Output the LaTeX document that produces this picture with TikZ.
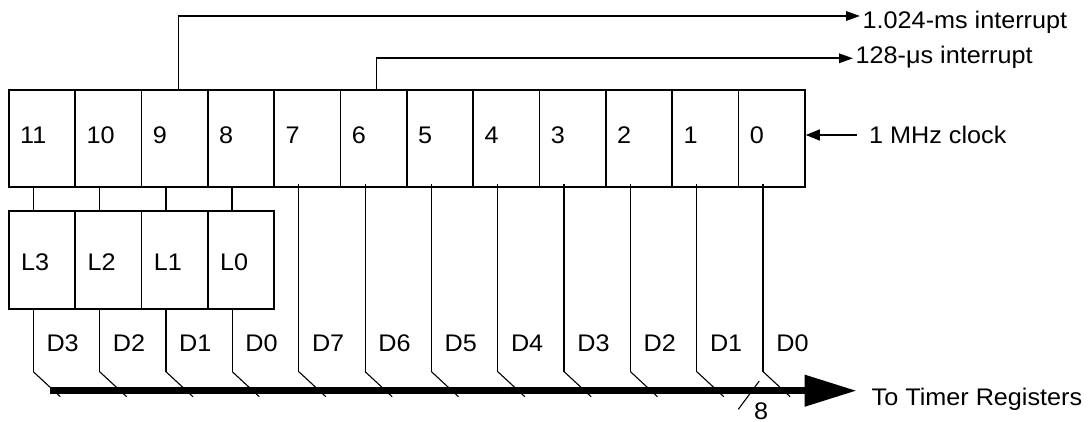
\documentclass[tikz,border=0pt]{standalone}
\usepackage{fontspec}
\setmainfont{Liberation Sans}[FakeStretch=1.05]
\usetikzlibrary{arrows.meta,calc}
\begin{document}
\begin{tikzpicture}[x=1pt,y=-1pt,
  cell/.style={draw,line width=1.8pt,minimum width=66.33pt,minimum height=97pt,inner sep=0pt,anchor=north west},
  lcell/.style={cell,minimum height=97.7pt},
  txt/.style={font=\fontsize{24}{29}\selectfont,inner sep=0pt,anchor=base west},
  tap/.style={line width=1.6pt},
  wire/.style={line width=1.3pt},
  diag/.style={line width=1.1pt},
  arr/.style={-{Triangle[length=14pt,width=9.5pt]}},
  bus/.style={line width=7pt,-{Triangle[length=52pt,width=30pt]}}]
\useasboundingbox (0,0) rectangle (1090,422);
% main 12-bit counter
\foreach \b [count=\i from 0] in {11,10,9,8,7,6,5,4,3,2,1,0} {
  \node[cell] (r\b) at ({8+\i*66.33},89) {};
  \node[txt] (t\b) at ({20+\i*66.33},144) {\b};
}
% latch L3..L0
\foreach \b [count=\i from 0] in {3,2,1,0} {
  \node[lcell] (l\b) at ({8+\i*66.33},210) {};
  \node[txt] (lt\b) at ({21+\i*66.33},271) {L\b};
}
% bits 11..8 into latch
\foreach \a/\b in {11/3,10/2,9/1,8/0}
  \draw[tap] ($(r\a.south west)+(25.3,0)$) -- ($(l\b.north west)+(25.3,0)$);
% bus level coordinate
\coordinate (ylev) at (0,371.7);
% data lines from latch
\foreach \b/\k in {3/1,2/2,1/3,0/4} {
  \draw[wire] ($(l\b.south west)+(25.3,0)$) coordinate (s\k) -- (s\k |- ylev) coordinate (e\k);
  \draw[diag] (e\k) -- ++(27,25);
  \node[txt] (d\k) at ($(s\k |- ylev)+(13,-20.5)$) {D\b};
}
% data lines from bits 7..0
\foreach \b/\k in {7/5,6/6,5/7,4/8,3/9,2/10,1/11,0/12} {
  \draw[wire] ($(r\b.south west)+(25.5,-3.5)$) coordinate (s\k) -- (s\k |- ylev) coordinate (e\k);
  \draw[diag] (e\k) -- ++(27,25);
  \node[txt] (d\k) at ($(s\k |- ylev)+(13,-20.5)$) {D\b};
}
% bus
\coordinate (b0) at (50,390.7);
\coordinate (b1) at (856.7,390.7);
\draw[bus] (b0) -- (b1);
\node[txt] (to) at (871.5,405.5) {To Timer Registers};
\coordinate (sl0) at (738.3,409.3);
\coordinate (sl1) at (759.3,381);
\draw[diag] (sl0) -- (sl1);
\node[txt] (eight) at (754,419) {8};
% interrupts
\coordinate (i1) at (860,16);
\coordinate (i2) at (853,58.3);
\node[txt] (ms) at (862.5,28.5) {1.024-ms interrupt};
\node[txt] (us) at (855.5,63.5) {128-μs interrupt};
\draw[tap,arr] ($(r9.north west)+(38,0)$) |- (i1);
\draw[tap,arr] ($(r6.north west)+(37,0)$) |- (i2);
% clock
\coordinate (ck) at (856.7,135);
\node[txt] (clk) at (869,144) {1 MHz clock};
\draw[wire,-{Triangle[length=14pt,width=11pt]}] (ck) -- (r0.east |- ck);
\end{tikzpicture}
\end{document}
